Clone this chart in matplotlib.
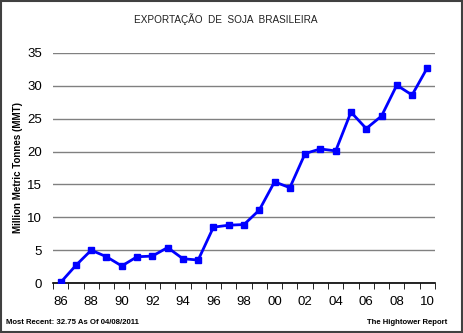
#!/usr/bin/env python3

import matplotlib
matplotlib.use('Agg')
import matplotlib.pyplot as plt
import numpy as np

years = list(range(1986, 2011))
exports = [0.1, 2.7, 5.0, 4.0, 2.6, 4.0, 4.1, 5.4, 3.7, 3.5,
           8.5, 8.8, 8.9, 11.1, 15.4, 14.5, 19.7, 20.4, 20.1, 26.0,
           23.5, 25.4, 30.1, 28.6, 32.75]
tick_labels = ['86', '88', '90', '92', '94', '96', '98', '00', '02', '04', '06', '08', '10']
y_ticks = [0, 5, 10, 15, 20, 25, 30, 35]


def main():
    plt.rcParams['font.family'] = ['Liberation Sans', 'DejaVu Sans']
    fig = plt.figure(figsize=(4.63, 3.33), dpi=100)
    ax = fig.add_axes([0.1145, 0.150, 0.825, 0.691])

    x = np.arange(len(years))
    ax.plot(x, exports, color='#0000ff', lw=2, marker='s', ms=5, zorder=3)

    ax.set_xlim(-0.5, len(years) - 0.5)
    ax.set_ylim(0, 35)
    ax.set_yticks(y_ticks)
    ax.set_yticklabels([str(v) for v in y_ticks], fontsize=9.5)
    ax.yaxis.grid(True, color='#808080', lw=1)
    ax.set_axisbelow(True)
    ax.tick_params(axis='y', length=0, pad=8)

    ax.set_xticks(np.arange(-0.5, len(years), 1), minor=True)
    ax.set_xticks(x[::2])
    ax.set_xticklabels(tick_labels, fontsize=9.5)
    ax.tick_params(axis='x', which='major', length=0, pad=9)
    ax.tick_params(axis='x', which='minor', length=4, direction='out', color='black')

    for s in ['top', 'right', 'left']:
        ax.spines[s].set_visible(False)
    ax.spines['bottom'].set_color('black')
    ax.spines['bottom'].set_linewidth(1.2)

    ax.set_ylabel('Million Metric Tonnes (MMT)', fontsize=7, fontweight='bold', labelpad=3)

    fig.text(0.488, 0.943, 'EXPORTAÇÃO  DE  SOJA  BRASILEIRA', ha='center', va='center',
             fontsize=7.2, color='#202020')
    fig.text(0.013, 0.033, 'Most Recent: 32.75 As Of 04/08/2011', ha='left', va='center',
             fontsize=5.6, fontweight='bold')
    fig.text(0.965, 0.033, 'The Hightower Report', ha='right', va='center',
             fontsize=5.6, fontweight='bold')

    border = plt.Rectangle((0.002, 0.003), 0.995, 0.994, transform=fig.transFigure,
                           fill=False, edgecolor='#404040', lw=1.5)
    fig.patches.append(border)

    plt.savefig('out.png', dpi=100)


if __name__ == "__main__":
    main()
